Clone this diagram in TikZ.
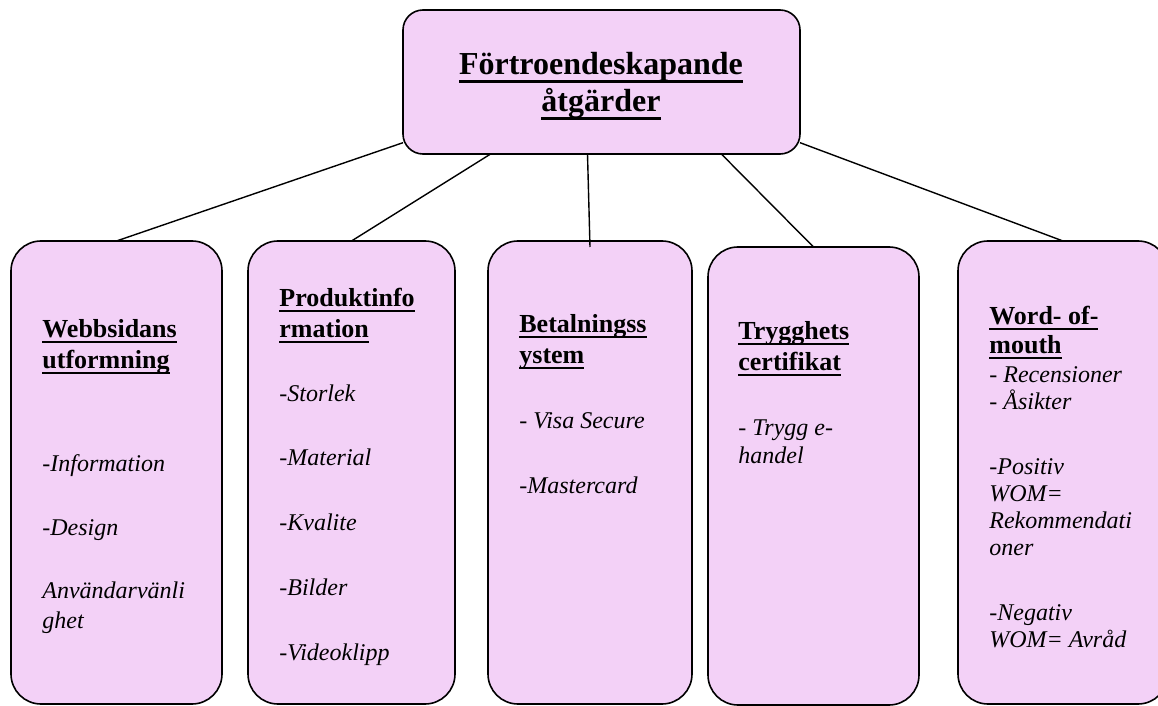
\documentclass[tikz,border=0pt]{standalone}
\usepackage{fontspec}
\setmainfont{Liberation Serif}
\usepackage{tikz}
\usetikzlibrary{positioning, calc}
\definecolor{boxPink}{RGB}{243, 209, 247}
% underline at a fixed depth, like a word processor does
\newsavebox\ulbox
\newcommand{\ulword}[1]{\sbox\ulbox{#1}\rlap{\rule[-0.24em]{\wd\ulbox}{0.075em}}\usebox\ulbox}

\begin{document}
\begin{tikzpicture}[x=0.5pt, y=-0.5pt,
    mainbox/.style={draw, line width=0.8pt, fill=boxPink, rounded corners=10pt,
        inner sep=0pt, outer sep=0pt, minimum width=198.5pt, minimum height=72pt},
    leafbox/.style={draw, line width=0.8pt, fill=boxPink, rounded corners=15pt,
        inner sep=0pt, outer sep=0pt, anchor=north west, minimum height=231.5pt},
    head/.style={anchor=base west, align=left, inner sep=0pt,
        font=\fontsize{13}{15.5}\selectfont\bfseries},
    item/.style={anchor=base west, align=left, inner sep=0pt,
        font=\fontsize{12}{13.8}\selectfont\itshape},
    link/.style={line width=0.7pt}]
    \useasboundingbox (0,0) rectangle (1158,706);

    % Top box (multi-line nodes sit on the baseline of their last line)
    \node[mainbox] (topbox) at (601.5,82) {};
    \node[anchor=base, align=center, inner sep=0pt,
        font=\fontsize{16}{18.5}\selectfont\bfseries] (title) at (601,112)
        {\ulword{Förtroendeskapande}\\\ulword{åtgärder}};

    % The five boxes below
    \node[leafbox, minimum width=105.5pt] (box1) at (11,241) {};
    \node[leafbox, minimum width=103.5pt] (box2) at (248,241) {};
    \node[leafbox, minimum width=102pt] (box3) at (488,241) {};
    \node[leafbox, minimum width=105.5pt, minimum height=229pt] (box4) at (708,247) {};
    \node[leafbox, minimum width=105pt] (box5) at (958,241) {};

    % Connectors
    \draw[link] (topbox.197.9) -- (box1.north);
    \draw[link] (topbox.213.3) -- (box2.north);
    \draw[link] (topbox.259.4) -- ($(box3.north)+(0,6)$);
    \draw[link] (topbox.329.4) -- (box4.north);
    \draw[link] (topbox.343.7) -- (box5.north);

    % Webbsidans utformning
    \node[head] (web) at (42,368) {\ulword{Webbsidans}\\\ulword{utformning}};
    \node[item] (web1) at (42,471) {-Information};
    \node[item] (web2) at (42,535) {-Design};
    \node[item, font=\fontsize{12}{15}\selectfont\itshape] (web3) at (42,628) {Användarvänli\\ghet};

    % Produktinformation
    \node[head] (prod) at (279,337) {\ulword{Produktinfo}\\\ulword{rmation}};
    \foreach \t [count=\i] in {-Storlek, -Material, -Kvalite, -Bilder, -Videoklipp}
        \node[item] (prod\i) at (279,{401+64.75*(\i-1)}) {\t};

    % Betalningssystem
    \node[head] (pay) at (519,363) {\ulword{Betalningss}\\\ulword{ystem}};
    \node[item] (pay1) at (519,428) {- Visa Secure};
    \node[item] (pay2) at (519,493) {-Mastercard};

    % Trygghetscertifikat
    \node[head] (cert) at (738,370) {\ulword{Trygghets}\\\ulword{certifikat}};
    \node[item] (cert1) at (738,463) {- Trygg e-\\handel};

    % Word-of-mouth
    \node[head, font=\fontsize{13}{14.5}\selectfont\bfseries] (wom) at (989,353) {\ulword{Word- of-}\\\ulword{mouth}};
    \node[item, font=\fontsize{12}{13.5}\selectfont\itshape] (wom1) at (989,409) {- Recensioner\\- Åsikter};
    \node[item, font=\fontsize{12}{13.5}\selectfont\itshape] (wom2) at (989,555) {-Positiv\\WOM=\\Rekommendati\\oner};
    \node[item, font=\fontsize{12}{13.5}\selectfont\itshape] (wom3) at (989,647) {-Negativ\\WOM= Avråd};
\end{tikzpicture}
\end{document}
